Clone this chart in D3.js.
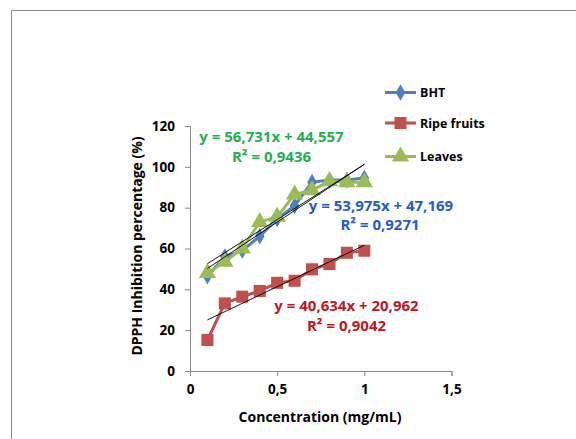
<!DOCTYPE html>
<html>
<head>
<meta charset="utf-8">
<script src="https://cdn.jsdelivr.net/npm/d3@7"></script>
<style>
  html, body { margin: 0; padding: 0; background: #fff; }
  svg { display: block; }
  text { font-family: "Open Sans", "Noto Sans", sans-serif; font-weight: bold; }
</style>
</head>
<body>
<script>
const concentrations = [0.1, 0.2, 0.3, 0.4, 0.5, 0.6, 0.7, 0.8, 0.9, 1.0];
const bhtValues = [46.5, 56, 59, 66, 74.5, 81, 92.5, 93.5, 93.5, 94.5];
const ripeValues = [15.2, 33.1, 36.4, 39.2, 43.2, 44.2, 49.8, 52.4, 57.9, 58.9];
const leavesValues = [48, 53.5, 60, 73, 75.5, 86.5, 88.5, 93, 92.5, 92.5];
const seriesNames = ["BHT", "Ripe fruits", "Leaves"];
const trendSlopes = [53.975, 40.634, 56.731];
const trendIntercepts = [47.169, 20.962, 44.557];
const equationLabels = ["y = 53,975x + 47,169", "y = 40,634x + 20,962", "y = 56,731x + 44,557"];
const r2Labels = ["R² = 0,9271", "R² = 0,9042", "R² = 0,9436"];
const xTicks = [0, 0.5, 1, 1.5];
const xTickLabels = ["0", "0,5", "1", "1,5"];
const yTicks = [0, 20, 40, 60, 80, 100, 120];

const W = 576, H = 439;
const svg = d3.select("body").append("svg").attr("width", W).attr("height", H);

// outer chart border
svg.append("rect").attr("x", 11.5).attr("y", 10.5).attr("width", 600).attr("height", 500)
  .attr("fill", "none").attr("stroke", "#8c8c8c").attr("stroke-width", 1);

const x = d3.scaleLinear().domain([0, 1.5]).range([190, 451.5]);
const y = d3.scaleLinear().domain([0, 120]).range([371, 126]);

const axisColor = "#868686";
const xAxis = svg.append("g").attr("transform", "translate(0,371)")
  .call(d3.axisBottom(x).tickValues(xTicks).tickFormat((d, i) => xTickLabels[i]).tickSizeOuter(0).tickSize(5).tickPadding(8));
const yAxis = svg.append("g").attr("transform", "translate(190,0)")
  .call(d3.axisLeft(y).tickValues(yTicks).tickSizeOuter(0).tickSize(5).tickPadding(10));
[xAxis, yAxis].forEach(g => {
  g.select(".domain").attr("stroke", axisColor);
  g.selectAll(".tick line").attr("stroke", axisColor);
  g.selectAll(".tick text").attr("fill", "#000").style("font-size", "13.5px")
    .style("font-family", "'Open Sans', sans-serif").style("font-weight", "bold");
});

// axis titles
svg.append("text").attr("x", 320).attr("y", 422).attr("text-anchor", "middle")
  .style("font-size", "14px").attr("fill", "#000").text("Concentration (mg/mL)");
svg.append("text").attr("transform", "translate(142,246) rotate(-90)").attr("text-anchor", "middle")
  .style("font-size", "14px").attr("fill", "#000").text("DPPH Inhibition percentage (%)");

const colors = ["#4F81BD", "#C0504D", "#9BBB59"];
const allValues = [bhtValues, ripeValues, leavesValues];
const line = d3.line().x(d => x(d[0])).y(d => y(d[1]));

// series lines
allValues.forEach((vals, i) => {
  const pts = concentrations.map((c, j) => [c, vals[j]]);
  svg.append("path").attr("d", line(pts)).attr("fill", "none")
    .attr("stroke", colors[i]).attr("stroke-width", 3).attr("stroke-linejoin", "round");
});

const symbols = [d3.symbolDiamond, d3.symbolSquare, d3.symbolTriangle];
const symSizes = [80, 145, 130];

function drawMarker(g, i, cx, cy) {
  g.append("path").attr("d", d3.symbol().type(symbols[i]).size(symSizes[i])())
    .attr("transform", `translate(${cx},${cy})`).attr("fill", colors[i]);
}

// markers drawn in series order
allValues.forEach((vals, i) => {
  const g = svg.append("g");
  concentrations.forEach((c, j) => drawMarker(g, i, x(c), y(vals[j])));
});

// trendlines
trendSlopes.forEach((m, i) => {
  const x0 = d3.min(concentrations), x1 = d3.max(concentrations);
  svg.append("line").attr("x1", x(x0)).attr("y1", y(m * x0 + trendIntercepts[i]))
    .attr("x2", x(x1)).attr("y2", y(m * x1 + trendIntercepts[i]))
    .attr("stroke", "#000").attr("stroke-width", 0.9);
});

// equation labels
const labelColors = ["#1F5CD6", "#C0181C", "#1FB050"];
const labelPos = [[381, 211, 380, 230], [346.5, 311, 346.5, 331], [271.5, 142, 271.5, 162]];
labelPos.forEach((p, i) => {
  svg.append("text").attr("x", p[0]).attr("y", p[1]).attr("text-anchor", "middle")
    .style("font-size", "15px").attr("fill", labelColors[i]).text(equationLabels[i]);
  svg.append("text").attr("x", p[2]).attr("y", p[3]).attr("text-anchor", "middle")
    .style("font-size", "15px").attr("fill", labelColors[i]).text(r2Labels[i]);
});

// legend
const legendY = [92.5, 123, 156.5];
seriesNames.forEach((name, i) => {
  const g = svg.append("g");
  g.append("line").attr("x1", 385).attr("x2", 416).attr("y1", legendY[i]).attr("y2", legendY[i])
    .attr("stroke", colors[i]).attr("stroke-width", 3);
  drawMarker(g, i, 400.5, legendY[i]);
  g.append("text").attr("x", 420).attr("y", legendY[i] + 4.5).style("font-size", "12.5px")
    .attr("fill", "#000").text(name);
});
</script>
</body>
</html>
